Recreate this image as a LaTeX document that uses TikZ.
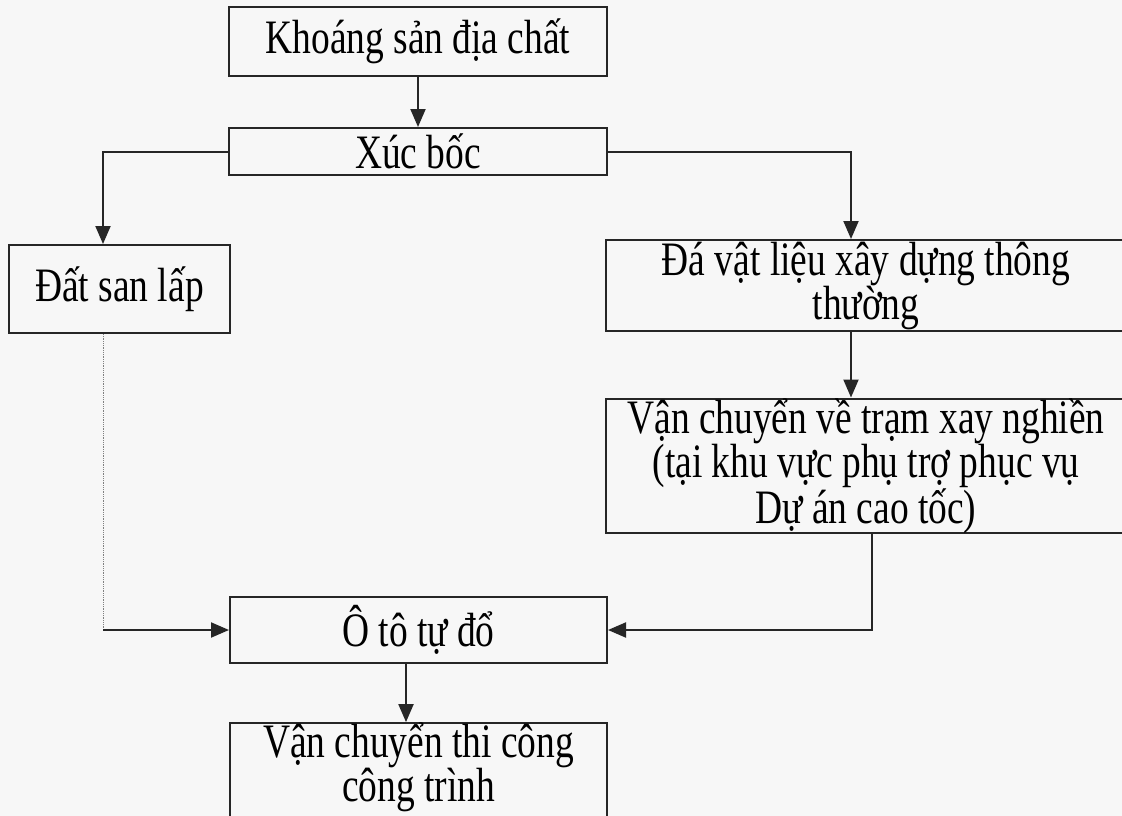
\documentclass[tikz,border=0pt]{standalone}
\usepackage{fontspec}
\setmainfont{Liberation Serif}[FakeStretch=0.78]
\usetikzlibrary{arrows.meta}
\tikzset{
    % Base Box Style
    flowbox/.style={
        rectangle,
        draw=black!85,
        line width=2pt,
        inner sep=0pt,
        align=center,
        font=\fontsize{48}{44}\selectfont
    },
    % Arrow & Line Styles
    arrow/.style={-{Triangle[length=18pt,width=15pt]}, line width=2pt, draw=black!85},
    faint/.style={line width=0.8pt, draw=gray, densely dotted}
}

\begin{document}
\begin{tikzpicture}[x=1pt, y=-1pt]

    \clip (0,0) rectangle (1122,816);
    \fill[black!3] (0,0) rectangle (1122,816);

    % --- CENTRE COLUMN ---
    \node (khoangsan) [flowbox, minimum width=378pt, minimum height=69pt] at (418,41.5) {Khoáng sản địa chất};
    \node (xucboc) [flowbox, minimum width=378pt, minimum height=47pt] at (418,151.5) {Xúc bốc};

    % --- LEFT BRANCH ---
    \node (datsanlap) [flowbox, minimum width=221pt, minimum height=88pt] at (119.5,289) {Đất san lấp};

    % --- RIGHT BRANCH ---
    \node (davatlieu) [flowbox, minimum width=520pt, minimum height=91pt] at (866,285.5) {Đá vật liệu xây dựng thông\\ thường};
    \node (vanchuyen) [flowbox, minimum width=520pt, minimum height=134pt] at (866,466) {Vận chuyển về trạm xay nghiền\\ (tại khu vực phụ trợ phục vụ\\ Dự án cao tốc)};

    % --- BOTTOM ---
    \node (ototudo) [flowbox, minimum width=377pt, minimum height=66pt] at (418.5,630) {Ô tô tự đổ};
    \node (vcthicong) [flowbox, minimum width=377pt, minimum height=96pt] at (418.5,772.5) {Vận chuyển thi công\\ công trình\rule[-20pt]{0pt}{20pt}};

    % --- Drop lines ---
    \coordinate (leftdrop) at (103,0);
    \coordinate (rightdrop) at (851,0);
    \coordinate (returnx) at (872,0);
    \coordinate (downx) at (406,0);

    % --- Arrows ---
    \draw [arrow] (khoangsan) -- (xucboc);
    \draw [arrow] (xucboc.west) -| (leftdrop |- datsanlap.north);
    \draw [arrow] (xucboc.east) -| (rightdrop |- davatlieu.north);
    \draw [arrow] (rightdrop |- davatlieu.south) -- (rightdrop |- vanchuyen.north);
    \draw [arrow] (returnx |- vanchuyen.south) |- (ototudo.east);
    \draw [faint] (leftdrop |- datsanlap.south) -- (leftdrop |- ototudo.west);
    \draw [arrow] (leftdrop |- ototudo.west) -- (ototudo.west);
    \draw [arrow] (downx |- ototudo.south) -- (downx |- vcthicong.north);

\end{tikzpicture}
\end{document}
